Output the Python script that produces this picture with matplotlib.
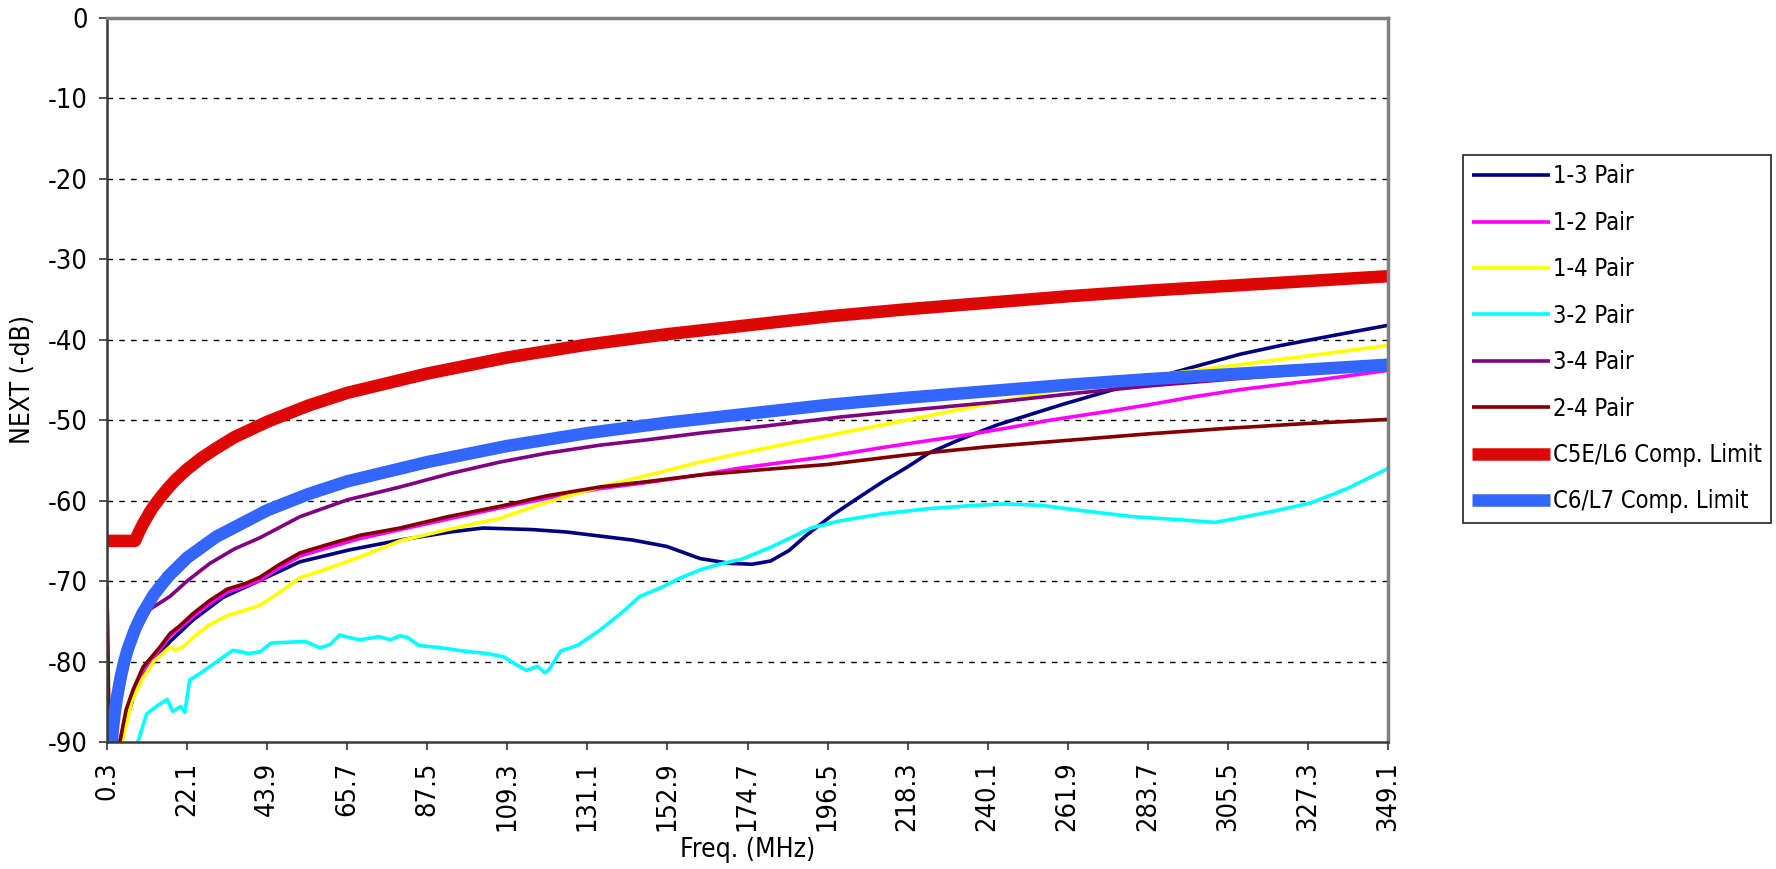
import matplotlib
matplotlib.use("Agg")
import matplotlib.pyplot as plt
from matplotlib import font_manager as fm

# ---- data (freq in MHz, NEXT in -dB) ----
x_labels = ["0.3", "22.1", "43.9", "65.7", "87.5", "109.3", "131.1", "152.9", "174.7",
            "196.5", "218.3", "240.1", "261.9", "283.7", "305.5", "327.3", "349.1"]
y_ticks = [0, -10, -20, -30, -40, -50, -60, -70, -80, -90]

freq_13 = [3.9, 7.4, 10.1, 14.7, 17.5, 23.8, 32, 42, 52.8, 66.5, 80.1, 93.7, 102.7, 116.3,
           125.5, 134.5, 143.5, 152.8, 161.8, 170, 176, 181, 186, 191, 197.8, 205, 211.7,
           218.3, 224, 232, 242.6, 260, 272, 283.5, 296, 308.8, 320, 335, 349.1]
db_13 = [-90, -84.5, -81.8, -79.0, -77.5, -74.8, -72.0, -69.9, -67.6, -66.1, -64.9, -63.9,
         -63.4, -63.6, -63.9, -64.4, -64.9, -65.7, -67.2, -67.8, -67.9, -67.5, -66.2, -64.2,
         -61.8, -59.6, -57.6, -55.8, -54.1, -52.5, -50.6, -48.1, -46.5, -45.0, -43.4, -41.8,
         -40.7, -39.4, -38.2]

freq_12 = [3.8, 5.5, 7.4, 10.1, 14.7, 17.5, 20, 23.8, 28, 33, 38, 42, 47, 52.8, 60, 69.2,
           80.1, 93, 107.3, 120, 134.5, 148, 161.8, 172, 185, 196.5, 210, 220, 232, 245,
           257, 270, 283.7, 296, 308.8, 330, 349.1]
db_12 = [-90, -86.5, -84.0, -81.0, -78.5, -76.8, -75.9, -74.4, -72.9, -71.4, -70.6, -69.9,
         -68.4, -66.9, -65.9, -64.7, -63.6, -62.3, -60.9, -59.7, -58.5, -57.7, -56.8, -56.0,
         -55.2, -54.5, -53.5, -52.8, -52.0, -51.0, -50.0, -49.1, -48.1, -47.1, -46.2, -45.0,
         -43.8]

freq_14 = [0.3, 0.9, 4.4, 7, 9.75, 13, 17.4, 19, 21, 23.8, 28, 33, 38, 42, 47, 52.8, 60,
           69.2, 80.1, 93, 107.3, 120, 134.5, 148, 161.8, 175, 187, 200, 218, 230, 243.4,
           256, 270.7, 290, 308.8, 329, 349.1]
db_14 = [-80, -92, -90, -85, -82.3, -80.0, -78.2, -78.6, -78.2, -77.0, -75.5, -74.3, -73.6,
         -73.0, -71.5, -69.6, -68.5, -67.0, -65.0, -63.6, -62.2, -60.2, -58.3, -56.8, -55.2,
         -53.9, -52.8, -51.6, -50.0, -48.9, -47.7, -46.5, -45.3, -44.2, -43.1, -41.9, -40.7]

freq_32 = [0.3, 1.0, 8.7, 11.1, 14, 16.7, 18.2, 20.4, 21.5, 22.8, 25.6, 29, 32.7, 34.6, 38.9,
           42, 45, 49.3, 54.3, 58.3, 61, 63.7, 66, 69.2, 74.4, 77.5, 80, 82.1, 85.2, 91.4,
           97.5, 103.7, 108.3, 111.4, 114.5, 117.6, 119.5, 120.7, 123.8, 128.4, 134.5,
           140.8, 145.4, 151.7, 156, 161.8, 167, 173, 181, 187, 192, 200, 212, 224, 236,
           245, 255, 265, 280, 290, 302, 308, 318, 328, 338, 349.1]
db_32 = [-85.5, -92, -90, -86.5, -85.5, -84.7, -86.2, -85.6, -86.3, -82.3, -81.5, -80.4,
         -79.2, -78.6, -79.0, -78.8, -77.7, -77.6, -77.5, -78.3, -77.9, -76.7, -77.0, -77.3,
         -76.9, -77.3, -76.8, -77.0, -78.0, -78.3, -78.7, -79.0, -79.4, -80.3, -81.1, -80.6,
         -81.4, -81.0, -78.7, -78.0, -76.1, -73.8, -71.9, -70.7, -69.7, -68.6, -67.9, -67.3,
         -65.8, -64.5, -63.4, -62.5, -61.6, -61.0, -60.6, -60.4, -60.6, -61.2, -62.0, -62.3,
         -62.7, -62.2, -61.3, -60.3, -58.5, -56.0]

freq_34 = [0.3, 0.8, 1.8, 3.8, 6, 8.4, 12, 17.45, 22.1, 28.3, 35, 42, 52.8, 65.7, 80.1, 94,
           107.3, 120, 134.5, 148, 161.8, 180, 200, 220, 243.4, 265, 285, 308.8, 330, 349.1]
db_34 = [-70.5, -92, -90, -81.4, -78.5, -76.5, -73.5, -71.9, -70.0, -67.8, -66.0, -64.6,
         -62.0, -59.9, -58.3, -56.6, -55.2, -54.1, -53.1, -52.4, -51.6, -50.7, -49.6, -48.7,
         -47.7, -46.6, -45.7, -44.8, -44.1, -43.5]

freq_24 = [0.3, 1.0, 3.8, 5.5, 7.4, 10.1, 14.7, 17.5, 20, 23.8, 28, 33, 38, 42, 47, 52.8, 60,
           69.2, 80.1, 93, 107.3, 120, 134.5, 148, 161.8, 180, 196.5, 218.3, 240.1, 261.9,
           283.7, 305.5, 327.3, 349.1]
db_24 = [-71.5, -92, -90, -86, -83.5, -80.7, -78.2, -76.5, -75.6, -74.0, -72.5, -71.0, -70.3,
         -69.5, -68.0, -66.5, -65.5, -64.3, -63.4, -62.0, -60.7, -59.4, -58.3, -57.6, -56.8,
         -56.1, -55.5, -54.3, -53.3, -52.5, -51.7, -51.0, -50.4, -49.9]

freq_c5e = [0.3, 4, 7.94, 9, 10, 11, 12, 13, 15, 17, 19, 22.1, 26, 30, 35, 43.9, 55, 65.7,
            87.5, 109.3, 131.1, 152.9, 174.7, 196.5, 218.3, 240.1, 261.9, 283.7, 305.5,
            327.3, 349.1]
db_c5e = [-65, -65, -65, -63.9, -63.0, -62.2, -61.4, -60.7, -59.5, -58.4, -57.4, -56.1,
          -54.7, -53.5, -52.1, -50.2, -48.2, -46.6, -44.2, -42.2, -40.6, -39.3, -38.2, -37.1,
          -36.2, -35.4, -34.6, -33.9, -33.3, -32.7, -32.1]

freq_c6 = [1.2, 1.6, 2, 2.5, 3, 4, 5, 6, 8, 10, 13, 17, 22.1, 30, 43.9, 55, 65.7, 87.5,
           109.3, 131.1, 152.9, 174.7, 196.5, 218.3, 240.1, 261.9, 283.7, 305.5, 327.3, 349.1]
db_c6 = [-92.4, -89.9, -88.0, -86.0, -84.5, -82.0, -80.0, -78.4, -75.9, -74.0, -71.7, -69.4,
         -67.1, -64.5, -61.2, -59.2, -57.6, -55.2, -53.2, -51.6, -50.3, -49.2, -48.1, -47.2,
         -46.4, -45.6, -44.9, -44.3, -43.7, -43.1]

series = [
    ("1-3 Pair", freq_13, db_13, "#000080", 2.6),
    ("1-2 Pair", freq_12, db_12, "#FF00FF", 2.6),
    ("1-4 Pair", freq_14, db_14, "#FFFF00", 2.6),
    ("3-2 Pair", freq_32, db_32, "#00FFFF", 2.6),
    ("3-4 Pair", freq_34, db_34, "#800080", 2.6),
    ("2-4 Pair", freq_24, db_24, "#800000", 2.6),
    ("C5E/L6 Comp. Limit", freq_c5e, db_c5e, "#DD0806", 9.0),
    ("C6/L7 Comp. Limit", freq_c6, db_c6, "#3366FF", 9.0),
]

# look for a narrow/condensed face, else fall back to Liberation Sans
narrow = None
for f in fm.fontManager.ttflist:
    label = f.name.lower() + " " + str(f.stretch).lower()
    if ("narrow" in label or "condensed" in label) and f.style == "normal" \
            and f.weight in (400, "normal", "regular") and "semi" not in label:
        narrow = f
        break
if narrow is not None:
    plt.rcParams["font.family"] = [narrow.name, "DejaVu Sans"]
    plt.rcParams["font.stretch"] = narrow.stretch
else:
    plt.rcParams["font.family"] = ["Liberation Sans", "DejaVu Sans"]
plt.rcParams["axes.unicode_minus"] = False

W, H = 1776, 869
fig = plt.figure(figsize=(W / 100, H / 100), dpi=100)
ax = fig.add_axes([107 / W, 1 - 742 / H, (1388 - 107) / W, (742 - 18) / H])

for name, fx, fy, color, lw in series:
    ax.plot(fx, fy, color=color, lw=lw, label=name, solid_capstyle="butt",
            solid_joinstyle="round")

ax.set_xlim(float(x_labels[0]), float(x_labels[-1]))
ax.set_ylim(-90, 0)
ax.set_xticks([float(s) for s in x_labels])
ax.set_xticklabels(x_labels, rotation=90, fontsize=19.5)
ax.set_yticks(y_ticks)
ax.set_yticklabels([str(v) for v in y_ticks], fontsize=19.5)
ax.tick_params(axis="both", direction="out", length=6, width=1.2, color="#333333", pad=8)

for y in y_ticks[:-1]:
    ax.axhline(y, color="black", lw=1.0, dashes=(4, 4.5), zorder=0.5)

for side in ("top", "right"):
    ax.spines[side].set_color("#808080")
    ax.spines[side].set_linewidth(2.5)
for side in ("left", "bottom"):
    ax.spines[side].set_color("#3a3a3a")
    ax.spines[side].set_linewidth(1.8)

ax.set_xlabel("Freq. (MHz)", fontsize=19, labelpad=4)
ax.set_ylabel("NEXT (-dB)", fontsize=19, labelpad=8)

leg = fig.legend(loc="upper left", bbox_to_anchor=(1463 / W, 1 - 155 / H),
                 fontsize=17, frameon=True, fancybox=False, borderaxespad=0,
                 handlelength=3.3, handletextpad=0.1, labelspacing=0.95, borderpad=0.4)
leg.get_frame().set_edgecolor("black")
leg.get_frame().set_linewidth(1.3)

fig.savefig("out.png", dpi=100)
